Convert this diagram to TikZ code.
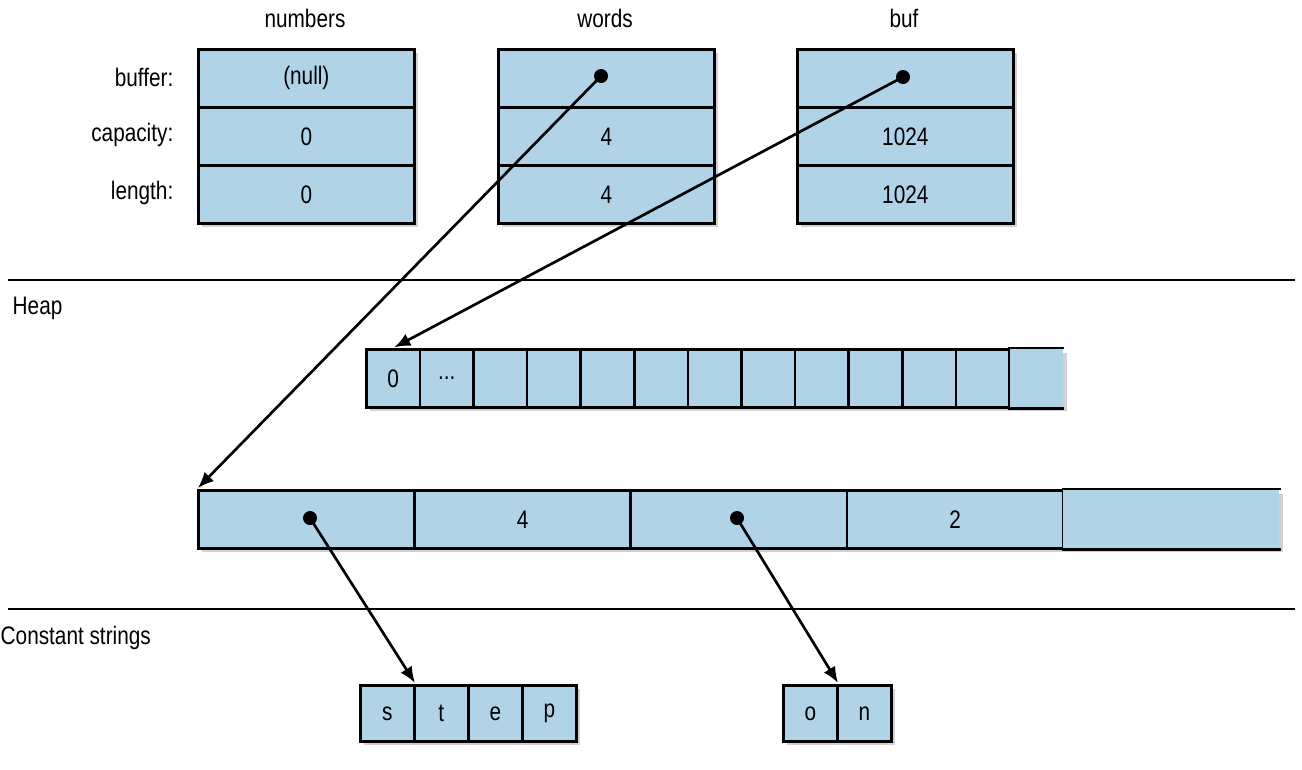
\documentclass[tikz,border=0pt]{standalone}
\usepackage{fontspec}
\setmainfont{Liberation Sans}[FakeStretch=0.82]
\usetikzlibrary{arrows.meta}
\definecolor{cellblue}{HTML}{B0D3E8}
\def\px{0.75pt}

\begin{document}
\begin{tikzpicture}[x=\px,y=-\px,font=\fontsize{19}{22}\selectfont]
    \tikzstyle{cell}=[draw,line width=2pt,fill=cellblue,inner sep=0pt,anchor=north west,
        minimum height=58*\px]
    \tikzstyle{open cell}=[cell,draw=none]
    \tikzstyle{shade}=[fill=black,opacity=0.18]
    \tikzstyle{ptr}=[-{Latex[length=12pt,width=10pt]},line width=2pt,shorten >=1pt]
    \tikzstyle{dot}=[circle,fill=black,inner sep=0pt,minimum size=14*\px]
    \useasboundingbox (0,0) rectangle (1302,769);

    % stack variables
    \foreach \var/\x in {numbers/197,words/497,buf/796}
        \fill[shade] (\x+5,53) rectangle +(216,174);
    \foreach \var/\x/\a/\b/\c in {numbers/197/(null)/0/0,words/497//4/4,buf/796//1024/1024} {
        \node[cell,minimum width=216*\px] (\var-1) at (\x,48) {\a};
        \node[cell,minimum width=216*\px] (\var-2) at (\x,106) {\b};
        \node[cell,minimum width=216*\px] (\var-3) at (\x,164) {\c};
        \node (\var) at (\x+108,18) {\var};
    }
    \node[anchor=east] (l-1) at (178,77) {buffer:};
    \node[anchor=east] (l-2) at (178,135) {capacity:};
    \node[anchor=east] (l-3) at (178,193) {length:};
    \node[dot] (wd) at (601,76) {};
    \node[dot] (bd) at (903,77) {};

    % regions
    \draw[line width=2pt] (8,280) -- (1295,280);
    \draw[line width=2pt] (8,609) -- (1295,609);
    \node[anchor=west] (heap) at (8,308) {Heap};
    \node[anchor=west] (const) at (-4,638) {Constant strings};

    % heap buffer
    \fill[shade] (370,353) rectangle (1067,411);
    \foreach \i in {1,...,12}
        \node[cell,minimum width=53.6*\px] (h-\i) at (365+53.6*\i-53.6,348) {};
    \node[open cell,minimum width=53.6*\px] (h-13) at (1008.2,348) {};
    \draw[line width=2pt] (h-13.north west) -- (h-13.north east) (h-13.south west) -- (h-13.south east);
    \node at (h-1) {0};
    \node at (h-2) {...};

    % words array
    \fill[shade] (202,494) rectangle (1283,552);
    \foreach \i/\t in {1/,2/4,3/,4/2}
        \node[cell,minimum width=216.2*\px] (w-\i) at (197+216.2*\i-216.2,489) {\t};
    \node[open cell,minimum width=216.2*\px] (w-5) at (1061.8,489) {};
    \draw[line width=2pt] (w-5.north west) -- (w-5.north east) (w-5.south west) -- (w-5.south east);
    \node[dot] (d1) at (310,518) {};
    \node[dot] (d3) at (737,518) {};

    % constant strings
    \fill[shade] (364,689) rectangle (580,745);
    \fill[shade] (787,689) rectangle (895,745);
    \foreach \t [count=\i] in {s,t,e,p}
        \node[cell,minimum width=54*\px,minimum height=56*\px] (s-\i) at (359+54*\i-54,684) {\t};
    \foreach \t [count=\i] in {o,n}
        \node[cell,minimum width=54*\px,minimum height=56*\px] (o-\i) at (782+54*\i-54,684) {\t};

    % pointers
    \draw[ptr] (wd.center) -- (w-1.north west);
    \draw[ptr] (bd.center) -- (h-1.north);
    \draw[ptr] (d1.center) -- (s-1.north east);
    \draw[ptr] (d3.center) -- (o-1.north east);
\end{tikzpicture}
\end{document}
